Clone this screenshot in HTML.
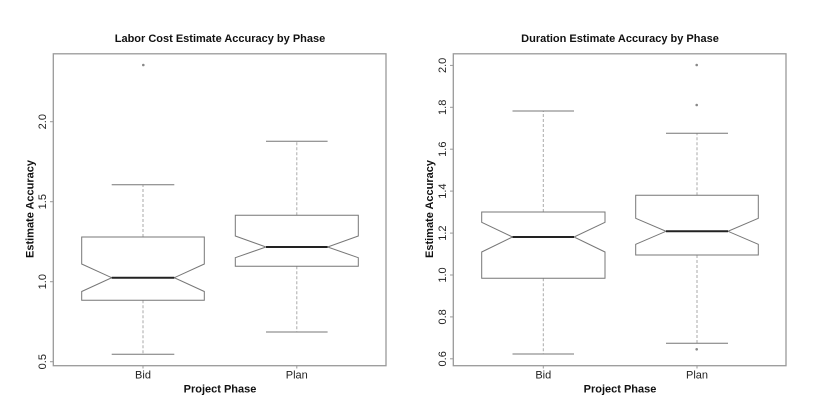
<!DOCTYPE html>
<html>
<head>
<meta charset="utf-8">
<style>
html,body{margin:0;padding:0;background:#fff;}
svg{display:block;}
text{font-family:"Liberation Sans",Arial,sans-serif;fill:#111;}
.t{font-weight:bold;font-size:11px;}
.a{font-size:11px;fill:#222;}
.fr{fill:none;stroke:#999;stroke-width:1.3;}
.tk{stroke:#999;stroke-width:1;}
.bx{fill:#fff;stroke:#777;stroke-width:1;}
.md{stroke:#222;stroke-width:2;}
.wh{stroke:#aaa;stroke-width:1;stroke-dasharray:3,2;}
.cp{stroke:#777;stroke-width:1;}
.ol{fill:#888;}
</style>
</head>
<body>
<svg width="840" height="420" viewBox="0 0 840 420" xmlns="http://www.w3.org/2000/svg">
<rect width="840" height="420" fill="#fff"/>

<!-- LEFT PLOT -->
<text class="t" x="220" y="42" text-anchor="middle">Labor Cost Estimate Accuracy by Phase</text>
<rect class="fr" x="53.3" y="53.8" width="332.7" height="311.9"/>
<!-- y ticks -->
<line class="tk" x1="50" y1="121.7" x2="53.3" y2="121.7"/>
<line class="tk" x1="50" y1="201.7" x2="53.3" y2="201.7"/>
<line class="tk" x1="50" y1="281.7" x2="53.3" y2="281.7"/>
<line class="tk" x1="50" y1="361.7" x2="53.3" y2="361.7"/>
<text class="a" transform="translate(46,121.7) rotate(-90)" text-anchor="middle">2.0</text>
<text class="a" transform="translate(46,201.7) rotate(-90)" text-anchor="middle">1.5</text>
<text class="a" transform="translate(46,281.7) rotate(-90)" text-anchor="middle">1.0</text>
<text class="a" transform="translate(46,361.7) rotate(-90)" text-anchor="middle">0.5</text>
<text class="t" transform="translate(33.3,209) rotate(-90)" text-anchor="middle">Estimate Accuracy</text>
<!-- x ticks -->
<line class="tk" x1="143" y1="365.7" x2="143" y2="368.5"/>
<line class="tk" x1="296.8" y1="365.7" x2="296.8" y2="368.5"/>
<text class="a" x="143" y="378.3" text-anchor="middle">Bid</text>
<text class="a" x="296.8" y="378.3" text-anchor="middle">Plan</text>
<text class="t" x="220" y="392.3" text-anchor="middle">Project Phase</text>

<!-- Bid box -->
<line class="wh" x1="143" y1="237" x2="143" y2="184.7"/>
<line class="wh" x1="143" y1="300.3" x2="143" y2="354.3"/>
<line class="cp" x1="111.7" y1="184.7" x2="174.3" y2="184.7"/>
<line class="cp" x1="111.7" y1="354.3" x2="174.3" y2="354.3"/>
<path class="bx" d="M81.7,237 L204.3,237 L204.3,264 L174.3,277.7 L204.3,291.5 L204.3,300.3 L81.7,300.3 L81.7,291.5 L111.7,277.7 L81.7,264 Z"/>
<line class="md" x1="111.7" y1="277.7" x2="174.3" y2="277.7"/>
<circle class="ol" cx="143.3" cy="65" r="1.3"/>

<!-- Plan box -->
<line class="wh" x1="296.8" y1="215.3" x2="296.8" y2="141.3"/>
<line class="wh" x1="296.8" y1="266.3" x2="296.8" y2="332"/>
<line class="cp" x1="266" y1="141.3" x2="327.6" y2="141.3"/>
<line class="cp" x1="266" y1="332" x2="327.6" y2="332"/>
<path class="bx" d="M235.3,215.3 L358.3,215.3 L358.3,236 L327.6,247 L358.3,257.7 L358.3,266.3 L235.3,266.3 L235.3,257.7 L266,247 L235.3,236 Z"/>
<line class="md" x1="266" y1="247" x2="327.6" y2="247"/>

<!-- RIGHT PLOT -->
<text class="t" x="620" y="42" text-anchor="middle">Duration Estimate Accuracy by Phase</text>
<rect class="fr" x="453.3" y="53.8" width="332.7" height="311.9"/>
<line class="tk" x1="450" y1="65.4" x2="453.3" y2="65.4"/>
<line class="tk" x1="450" y1="107.3" x2="453.3" y2="107.3"/>
<line class="tk" x1="450" y1="149.2" x2="453.3" y2="149.2"/>
<line class="tk" x1="450" y1="191.1" x2="453.3" y2="191.1"/>
<line class="tk" x1="450" y1="233.1" x2="453.3" y2="233.1"/>
<line class="tk" x1="450" y1="275" x2="453.3" y2="275"/>
<line class="tk" x1="450" y1="316.9" x2="453.3" y2="316.9"/>
<line class="tk" x1="450" y1="358.8" x2="453.3" y2="358.8"/>
<text class="a" transform="translate(446,65.4) rotate(-90)" text-anchor="middle">2.0</text>
<text class="a" transform="translate(446,107.3) rotate(-90)" text-anchor="middle">1.8</text>
<text class="a" transform="translate(446,149.2) rotate(-90)" text-anchor="middle">1.6</text>
<text class="a" transform="translate(446,191.1) rotate(-90)" text-anchor="middle">1.4</text>
<text class="a" transform="translate(446,233.1) rotate(-90)" text-anchor="middle">1.2</text>
<text class="a" transform="translate(446,275) rotate(-90)" text-anchor="middle">1.0</text>
<text class="a" transform="translate(446,316.9) rotate(-90)" text-anchor="middle">0.8</text>
<text class="a" transform="translate(446,358.8) rotate(-90)" text-anchor="middle">0.6</text>
<text class="t" transform="translate(433,209) rotate(-90)" text-anchor="middle">Estimate Accuracy</text>
<line class="tk" x1="543.3" y1="365.7" x2="543.3" y2="368.5"/>
<line class="tk" x1="697" y1="365.7" x2="697" y2="368.5"/>
<text class="a" x="543.3" y="378.3" text-anchor="middle">Bid</text>
<text class="a" x="697" y="378.3" text-anchor="middle">Plan</text>
<text class="t" x="620" y="392.3" text-anchor="middle">Project Phase</text>

<!-- Bid box -->
<line class="wh" x1="543.3" y1="212" x2="543.3" y2="111"/>
<line class="wh" x1="543.3" y1="278.3" x2="543.3" y2="354"/>
<line class="cp" x1="512.5" y1="111" x2="574" y2="111"/>
<line class="cp" x1="512.5" y1="354" x2="574" y2="354"/>
<path class="bx" d="M481.7,212 L605,212 L605,222.3 L574,237 L605,252 L605,278.3 L481.7,278.3 L481.7,252 L512.5,237 L481.7,222.3 Z"/>
<line class="md" x1="512.5" y1="237" x2="574" y2="237"/>

<!-- Plan box -->
<line class="wh" x1="697" y1="195.3" x2="697" y2="133.3"/>
<line class="wh" x1="697" y1="255" x2="697" y2="343.3"/>
<line class="cp" x1="666" y1="133.3" x2="728" y2="133.3"/>
<line class="cp" x1="666" y1="343.3" x2="728" y2="343.3"/>
<path class="bx" d="M635.7,195.3 L758.3,195.3 L758.3,218.3 L728,231.3 L758.3,244.3 L758.3,255 L635.7,255 L635.7,244.3 L666,231.3 L635.7,218.3 Z"/>
<line class="md" x1="666" y1="231.3" x2="728" y2="231.3"/>
<circle class="ol" cx="696.7" cy="65" r="1.3"/>
<circle class="ol" cx="696.7" cy="105" r="1.3"/>
<circle class="ol" cx="696.7" cy="349.3" r="1.3"/>
</svg>
</body>
</html>
